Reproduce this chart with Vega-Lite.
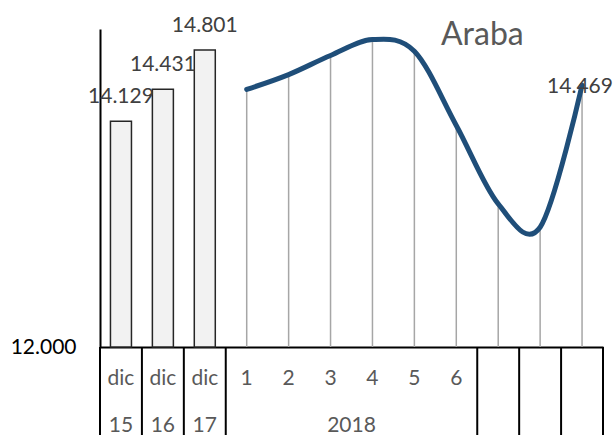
{
  "$schema": "https://vega.github.io/schema/vega-lite/v6.json",
  "width": 503,
  "height": 318,
  "autosize": {"type": "none"},
  "padding": {"left": 100, "top": 29, "right": 12, "bottom": 88},
  "background": "white",
  "config": {
    "view": {"stroke": null},
    "font": "Lato",
    "text": {"font": "Lato"}
  },
  "title": {
    "text": "Araba",
    "anchor": "start",
    "frame": "group",
    "orient": "top",
    "offset": 0,
    "dx": 341,
    "dy": 62,
    "baseline": "alphabetic",
    "fontSize": 32,
    "fontWeight": "normal",
    "font": "Lato",
    "color": "#595959"
  },
  "datasets": {
    "main": [
      {"cat": "d15", "r1": "dic", "r2": "15", "bar": 14.129},
      {"cat": "d16", "r1": "dic", "r2": "16", "bar": 14.431},
      {"cat": "d17", "r1": "dic", "r2": "17", "bar": 14.801},
      {"cat": "m1", "r1": "1", "v": 14.43},
      {"cat": "m2", "r1": "2", "v": 14.57},
      {"cat": "m3", "r1": "3", "v": 14.75},
      {"cat": "m4", "r1": "4", "v": 14.9},
      {"cat": "m5", "r1": "5", "v": 14.79},
      {"cat": "m6", "r1": "6", "v": 14.09},
      {"cat": "m7", "r1": "", "v": 13.35},
      {"cat": "m8", "r1": "", "v": 13.13},
      {"cat": "m9", "r1": "", "v": 14.469, "lab": "14.469"}
    ],
    "year": [{"cat": "m4", "t": "2018"}],
    "seps": [
      {"cat": "d15", "lo": 12, "hi": 11.16},
      {"cat": "d16", "lo": 12, "hi": 11.16},
      {"cat": "d17", "lo": 12, "hi": 11.16},
      {"cat": "m1", "lo": 12, "hi": 11.16},
      {"cat": "m7", "lo": 12, "hi": 11.16},
      {"cat": "m8", "lo": 12, "hi": 11.16},
      {"cat": "m9", "lo": 12, "hi": 11.16}
    ],
    "sepEnd": [{"cat": "m9", "lo": 12, "hi": 11.16}]
  },
  "encoding": {
    "x": {
      "field": "cat",
      "type": "nominal",
      "sort": null,
      "scale": {
        "type": "band",
        "domain": ["d15", "d16", "d17", "m1", "m2", "m3", "m4", "m5", "m6", "m7", "m8", "m9"],
        "paddingInner": 0,
        "paddingOuter": 0
      },
      "axis": {
        "title": null,
        "labels": false,
        "ticks": false,
        "grid": false,
        "domainColor": "#000000",
        "domainWidth": 2
      }
    }
  },
  "layer": [
    {
      "data": {"name": "main"},
      "transform": [{"filter": "isValid(datum.v)"}],
      "mark": {"type": "rule", "color": "#a6a6a6", "strokeWidth": 1.5},
      "encoding": {
        "y": {
          "field": "v",
          "type": "quantitative",
          "scale": {"domain": [12, 15], "nice": false, "zero": false},
          "axis": {
            "title": null,
            "values": [12],
            "labelExpr": "format(datum.value, '.3f')",
            "ticks": false,
            "grid": false,
            "domainColor": "#000000",
            "domainWidth": 2,
            "labelColor": "#000000",
            "labelFontSize": 21,
            "labelFont": "Lato",
            "labelPadding": 24
          }
        },
        "y2": {"datum": 12}
      }
    },
    {
      "data": {"name": "main"},
      "transform": [{"filter": "isValid(datum.v)"}],
      "mark": {"type": "line", "color": "#1f4e79", "strokeWidth": 5, "interpolate": "cardinal", "tension": 0, "strokeCap": "round"},
      "encoding": {
        "y": {"field": "v", "type": "quantitative"}
      }
    },
    {
      "data": {"name": "main"},
      "transform": [{"filter": "isValid(datum.bar)"}],
      "mark": {"type": "bar", "size": 21, "fill": "#f2f2f2", "stroke": "#262626", "strokeWidth": 1.5},
      "encoding": {
        "y": {"field": "bar", "type": "quantitative"},
        "y2": {"datum": 12}
      }
    },
    {
      "data": {"name": "main"},
      "transform": [{"filter": "isValid(datum.bar)"}],
      "mark": {"type": "text", "fontSize": 21, "color": "#404040", "baseline": "alphabetic", "dy": -18, "align": "center"},
      "encoding": {
        "y": {"field": "bar", "type": "quantitative"},
        "text": {"field": "bar", "type": "quantitative", "format": ".3f"}
      }
    },
    {
      "data": {"name": "main"},
      "transform": [{"filter": "isValid(datum.lab)"}],
      "mark": {"type": "text", "fontSize": 21, "color": "#404040", "baseline": "alphabetic", "dy": 8, "dx": -2, "align": "center"},
      "encoding": {
        "y": {"field": "v", "type": "quantitative"},
        "text": {"field": "lab"}
      }
    },
    {
      "data": {"name": "main"},
      "mark": {"type": "text", "fontSize": 21, "color": "#595959", "baseline": "alphabetic", "align": "center"},
      "encoding": {
        "y": {"datum": 11.644},
        "text": {"field": "r1"}
      }
    },
    {
      "data": {"name": "main"},
      "transform": [{"filter": "isValid(datum.r2)"}],
      "mark": {"type": "text", "fontSize": 21, "color": "#595959", "baseline": "alphabetic", "align": "center"},
      "encoding": {
        "y": {"datum": 11.201},
        "text": {"field": "r2"}
      }
    },
    {
      "data": {"name": "year"},
      "mark": {"type": "text", "fontSize": 21, "color": "#595959", "baseline": "alphabetic", "align": "center"},
      "encoding": {
        "x": {"field": "cat", "type": "nominal", "bandPosition": 0},
        "y": {"datum": 11.201},
        "text": {"field": "t"}
      }
    },
    {
      "data": {"name": "seps"},
      "mark": {"type": "rule", "color": "#000000", "strokeWidth": 2},
      "encoding": {
        "x": {"field": "cat", "type": "nominal", "bandPosition": 0},
        "y": {"field": "lo", "type": "quantitative"},
        "y2": {"field": "hi"}
      }
    },
    {
      "data": {"name": "sepEnd"},
      "mark": {"type": "rule", "color": "#000000", "strokeWidth": 2},
      "encoding": {
        "x": {"field": "cat", "type": "nominal", "bandPosition": 1},
        "y": {"field": "lo", "type": "quantitative"},
        "y2": {"field": "hi"}
      }
    }
  ]
}
